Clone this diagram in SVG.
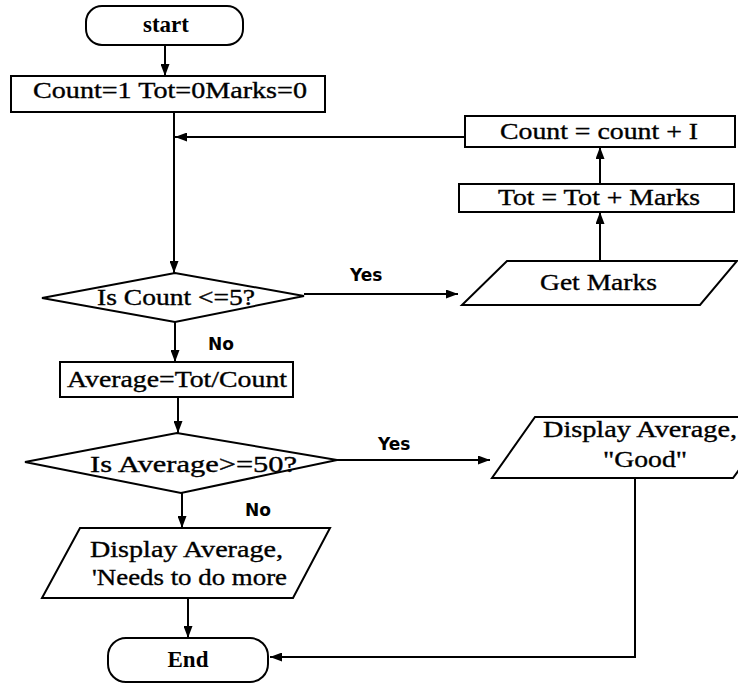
<svg xmlns="http://www.w3.org/2000/svg" width="738" height="686" viewBox="0 0 738 686">
<style>
.s{fill:#fff;stroke:#000;stroke-width:2}
.t{font-family:"Liberation Serif","Times New Roman",serif;font-size:23px;fill:#000;stroke:#000;stroke-width:0.35}
.b{font-weight:bold;stroke-width:0}
.l{font-family:"DejaVu Sans",Verdana,sans-serif;font-size:17px;font-weight:bold;fill:#000}
.c{fill:none;stroke:#000;stroke-width:2}
</style>
<defs>
<marker id="a" viewBox="0 0 12 9" refX="12" refY="4.5" markerWidth="12" markerHeight="9" markerUnits="userSpaceOnUse" orient="auto">
<path d="M0,0 L12,4.5 L0,9 Z" fill="#000"/>
</marker>
</defs>
<rect width="738" height="686" fill="#fff"/>
<g id="connectors">
<line class="c" x1="165" y1="45" x2="165" y2="76" marker-end="url(#a)"/>
<line class="c" x1="174" y1="112" x2="174" y2="273" marker-end="url(#a)"/>
<line class="c" x1="465" y1="137" x2="175" y2="137" marker-end="url(#a)"/>
<line class="c" x1="600" y1="184" x2="600" y2="147" marker-end="url(#a)"/>
<line class="c" x1="600" y1="261" x2="600" y2="212" marker-end="url(#a)"/>
<line class="c" x1="304" y1="294" x2="458" y2="294" marker-end="url(#a)"/>
<line class="c" x1="175" y1="322" x2="175" y2="362" marker-end="url(#a)"/>
<line class="c" x1="178" y1="397" x2="178" y2="433" marker-end="url(#a)"/>
<line class="c" x1="337" y1="460" x2="490" y2="460" marker-end="url(#a)"/>
<line class="c" x1="182" y1="493" x2="182" y2="528" marker-end="url(#a)"/>
<line class="c" x1="188" y1="598" x2="188" y2="638" marker-end="url(#a)"/>
<polyline class="c" points="635,478 635,657 270,657" marker-end="url(#a)"/>
<text class="l" x="350" y="281">Yes</text>
<text class="l" x="208" y="350">No</text>
<text class="l" x="378" y="450">Yes</text>
<text class="l" x="245" y="516">No</text>
</g>
<g id="start">
<rect class="s" x="86" y="6" width="157" height="39" rx="16"/>
<text class="t b" x="166" y="32" text-anchor="middle">start</text>
</g>
<g id="init">
<rect class="s" x="11" y="76" width="314" height="36"/>
<text class="t" x="33" y="98" textLength="274" lengthAdjust="spacingAndGlyphs">Count=1 Tot=0Marks=0</text>
</g>
<g id="incCount">
<rect class="s" x="465" y="116" width="270" height="31"/>
<text class="t" x="500" y="139" textLength="198" lengthAdjust="spacingAndGlyphs">Count = count + I</text>
</g>
<g id="addTot">
<rect class="s" x="459" y="184" width="275" height="28"/>
<text class="t" x="498" y="205" textLength="202" lengthAdjust="spacingAndGlyphs">Tot = Tot + Marks</text>
</g>
<g id="getMarks">
<polygon class="s" points="507,261 737,261 700,305 462,305"/>
<text class="t" x="540" y="290" textLength="117" lengthAdjust="spacingAndGlyphs">Get Marks</text>
</g>
<g id="checkCount">
<polygon class="s" points="42,298 175,273 304,296 175,322"/>
<text class="t" x="97" y="305" textLength="158" lengthAdjust="spacingAndGlyphs">Is Count &lt;=5?</text>
</g>
<g id="average">
<rect class="s" x="60" y="362" width="233" height="35"/>
<text class="t" x="67" y="387" textLength="220" lengthAdjust="spacingAndGlyphs">Average=Tot/Count</text>
</g>
<g id="checkAverage">
<polygon class="s" points="25,462 177,433 337,460 181,493"/>
<text class="t" x="90" y="472" textLength="207" lengthAdjust="spacingAndGlyphs">Is Average&gt;=50?</text>
</g>
<g id="displayGood">
<polygon class="s" points="535,417 778,417 733,478 492,478"/>
<text class="t" x="543" y="437" textLength="194" lengthAdjust="spacingAndGlyphs">Display Average,</text>
<text class="t" x="603" y="467" textLength="84" lengthAdjust="spacingAndGlyphs">"Good"</text>
</g>
<g id="displayMore">
<polygon class="s" points="80,528 330,528 293,598 42,598"/>
<text class="t" x="90" y="557" textLength="193" lengthAdjust="spacingAndGlyphs">Display Average,</text>
<text class="t" x="92" y="585" textLength="195" lengthAdjust="spacingAndGlyphs">'Needs to do more</text>
</g>
<g id="end">
<rect class="s" x="108" y="638" width="160" height="44" rx="18"/>
<text class="t b" x="188" y="667" text-anchor="middle">End</text>
</g>
</svg>
